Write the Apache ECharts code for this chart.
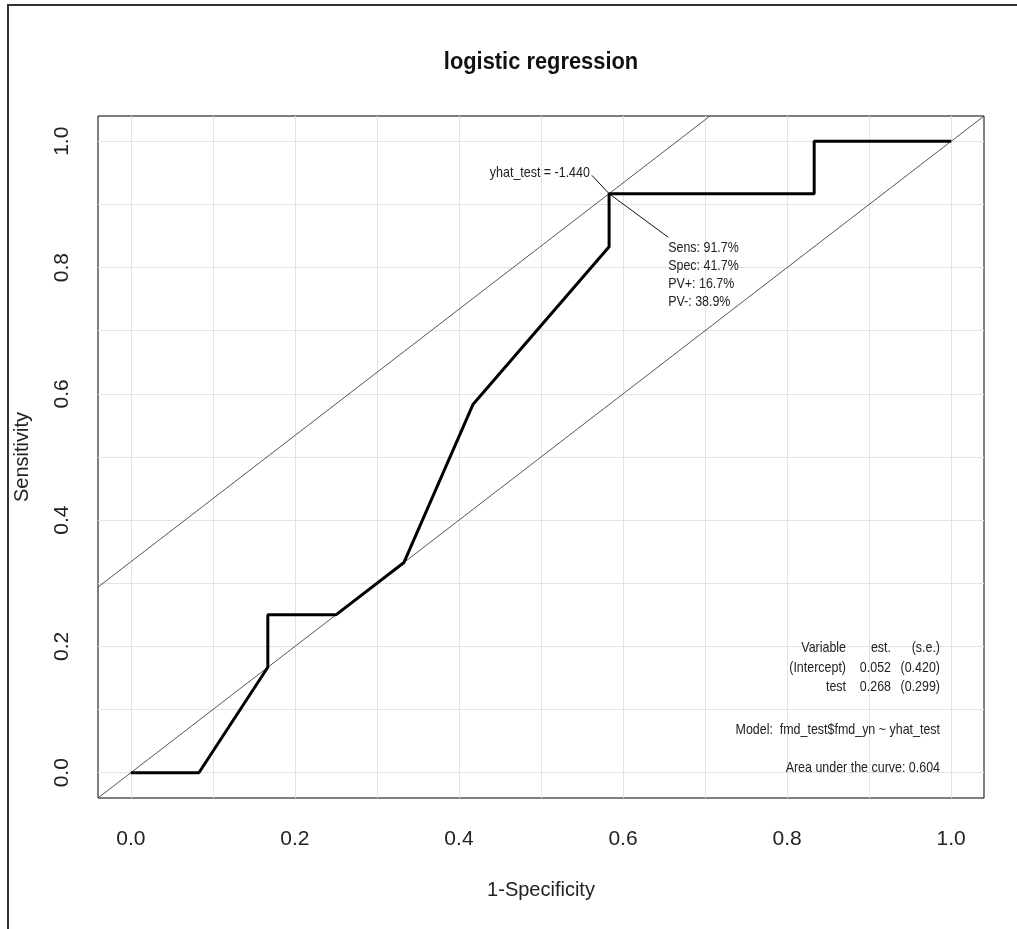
<!DOCTYPE html>
<html>
<head>
<meta charset="utf-8">
<title>logistic regression ROC</title>
<script src="https://cdn.jsdelivr.net/npm/echarts@6/dist/echarts.min.js"></script>
<style>
  html, body { margin: 0; padding: 0; background: #fff; }
  #chart { width: 1017px; height: 929px; }
</style>
</head>
<body>
<div id="chart"></div>
<script>
// ROC curve points (1-specificity, sensitivity)
const FPR = [0, 0.083, 0.167, 0.167, 0.25, 0.333, 0.417, 0.583, 0.583, 0.833, 0.833, 1.0];
const TPR = [0, 0, 0.167, 0.25, 0.25, 0.333, 0.583, 0.833, 0.917, 0.917, 1.0, 1.0];
const OPT = 8; // index of the optimal cut point

const TICKS = [0, 0.2, 0.4, 0.6, 0.8, 1.0];
const GRID_STEPS = [0, 0.1, 0.2, 0.3, 0.4, 0.5, 0.6, 0.7, 0.8, 0.9, 1.0];
const AXIS_RANGE = [-0.04, 1.04];

const TITLE = "logistic regression";
const X_NAME = "1-Specificity";
const Y_NAME = "Sensitivity";
const CUT_LABEL = "yhat_test = -1.440";
const OPT_STATS = ["Sens: 91.7%", "Spec: 41.7%", "PV+: 16.7%", "PV-: 38.9%"];
const COEF_HEADER = ["Variable", "est.", "(s.e.)"];
const COEF_ROWS = [
  ["(Intercept)", "0.052", "(0.420)"],
  ["test", "0.268", "(0.299)"]
];
const MODEL_TEXT = "Model:  fmd_test$fmd_yn ~ yhat_test";
const AUC_TEXT = "Area under the curve: 0.604";

const FONT = '"Liberation Sans", Arial, sans-serif';
const NARROW = 0.83; // no narrow font installed, squeeze the annotation text instead

const rocData = FPR.map((x, i) => [x, TPR[i]]);
const optPoint = rocData[OPT];
const offset = optPoint[1] - optPoint[0];
const diagData = [[AXIS_RANGE[0], AXIS_RANGE[0]], [AXIS_RANGE[1], AXIS_RANGE[1]]];
const tangentData = [[AXIS_RANGE[0], AXIS_RANGE[0] + offset], [AXIS_RANGE[1] - offset, AXIS_RANGE[1]]];

// anchors for the cut point annotation (data coords)
const cutLabelAnchor = [0.562, 0.946];
const statsAnchor = [0.655, 0.848];

const chartDom = document.getElementById("chart");
const myChart = echarts.init(chartDom);

const axisCommon = {
  type: "value",
  min: AXIS_RANGE[0],
  max: AXIS_RANGE[1],
  axisLine: { show: false },
  splitLine: { show: false },
  axisTick: {
    show: true,
    inside: false,
    length: 12,
    customValues: TICKS,
    lineStyle: { color: "#000", width: 1 }
  },
  nameLocation: "middle",
  nameTextStyle: { fontFamily: FONT, fontSize: 20, color: "#222" }
};

const option = {
  backgroundColor: "#fff",
  animation: false,
  grid: {
    left: 98,
    top: 116,
    right: 33,
    bottom: 131,
    show: true,
    borderColor: "#000",
    borderWidth: 1,
    backgroundColor: "transparent"
  },
  xAxis: Object.assign({}, axisCommon, {
    name: X_NAME,
    nameGap: 82,
    axisLabel: {
      customValues: TICKS,
      formatter: (v) => v.toFixed(1),
      margin: 31,
      fontFamily: FONT,
      fontSize: 21,
      color: "#222"
    }
  }),
  yAxis: Object.assign({}, axisCommon, {
    name: Y_NAME,
    nameGap: 66,
    axisLabel: {
      customValues: TICKS,
      formatter: (v) => v.toFixed(1),
      rotate: 90,
      margin: 25,
      fontFamily: FONT,
      fontSize: 21,
      color: "#222"
    }
  }),
  series: [
    {
      name: "grid",
      type: "line",
      data: [],
      silent: true,
      z: 1,
      markLine: {
        silent: true,
        z: 1,
        symbol: "none",
        label: { show: false },
        lineStyle: { color: "#e3e3e3", type: "solid", width: 1 },
        data: GRID_STEPS.map((v) => ({ xAxis: v })).concat(GRID_STEPS.map((v) => ({ yAxis: v })))
      }
    },
    {
      name: "diagonal",
      type: "line",
      data: diagData,
      showSymbol: false,
      silent: true,
      z: 2,
      lineStyle: { color: "#555", width: 1 }
    },
    {
      name: "tangent",
      type: "line",
      data: tangentData,
      showSymbol: false,
      silent: true,
      z: 2,
      lineStyle: { color: "#555", width: 1 }
    },
    {
      name: "connector",
      type: "line",
      data: [cutLabelAnchor, optPoint, statsAnchor],
      showSymbol: false,
      silent: true,
      z: 3,
      lineStyle: { color: "#111", width: 1 }
    },
    {
      name: "ROC",
      type: "line",
      data: rocData,
      showSymbol: false,
      silent: true,
      z: 4,
      lineStyle: { color: "#000", width: 3 }
    }
  ]
};

myChart.setOption(option);

// text annotations placed after the axes exist
const cutPx = myChart.convertToPixel({ gridIndex: 0 }, cutLabelAnchor);
const statsPx = myChart.convertToPixel({ gridIndex: 0 }, statsAnchor);
const textStyle = (extra) => Object.assign({ fontFamily: FONT, fontSize: 15, fill: "#222" }, extra);
const note = (x, y, text, align) => ({
  type: "text",
  x: x,
  y: y,
  z: 100,
  scaleX: NARROW,
  style: textStyle({ text: text, textAlign: align, textVerticalAlign: "middle" })
});

const graphics = [
  {
    type: "rect",
    shape: { x: 8, y: 5, width: 1100, height: 1000 },
    style: { fill: "none", stroke: "#333", lineWidth: 2 },
    silent: true
  },
  {
    type: "text",
    x: 541,
    y: 63,
    z: 100,
    scaleX: 0.95,
    style: textStyle({ text: TITLE, fontSize: 23, fontWeight: "bold", fill: "#111", textAlign: "center", textVerticalAlign: "middle" })
  },
  note(cutPx[0] - 2, cutPx[1] - 2, CUT_LABEL, "right")
];

OPT_STATS.forEach((s, i) => {
  graphics.push(note(statsPx[0], statsPx[1] + 11 + i * 18, s, "left"));
});

// coefficient table, right-aligned columns
const colRight = [846, 891, 940];
[COEF_HEADER].concat(COEF_ROWS).forEach((row, r) => {
  row.forEach((cell, c) => {
    graphics.push(note(colRight[c], 648 + r * 19.5, cell, "right"));
  });
});
graphics.push(note(940, 730, MODEL_TEXT, "right"));
graphics.push(note(940, 768, AUC_TEXT, "right"));

myChart.setOption({ graphic: graphics });
</script>
</body>
</html>
